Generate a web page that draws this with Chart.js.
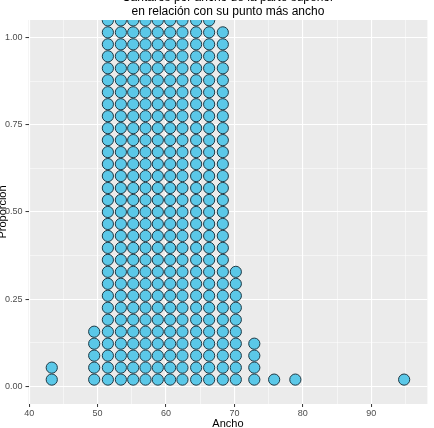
<!DOCTYPE html>
<html>
<head>
<meta charset="utf-8">
<script src="https://cdn.jsdelivr.net/npm/chart.js@4.4.1/dist/chart.umd.min.js"></script>
<style>
  html, body { margin: 0; padding: 0; background: #fff; overflow: hidden; }
  #wrap { position: absolute; left: -3px; top: -11px; width: 437px; height: 439px; }
</style>
</head>
<body>
<div id="wrap"><canvas id="chart" width="437" height="439"></canvas></div>
<script>
// dotplot bins: centre of each stack (Ancho) and how many dots it holds
const anchoBins = [43.3, 49.5, 51.5, 53.4, 55.2, 57.0, 58.8, 60.6, 62.4, 64.4, 66.3, 68.3, 70.2, 72.9, 75.8, 78.9, 94.8];
const dotCounts = [2, 5, 32, 32, 32, 32, 32, 32, 32, 32, 32, 30, 10, 4, 1, 1, 1];
const xTicks = [40, 45, 50, 55, 60, 65, 70, 75, 80, 85, 90, 95];
const yTicks = [0, 0.125, 0.25, 0.375, 0.5, 0.625, 0.75, 0.875, 1];
const dotStep = 0.0343;

const titleLines = ["Cántaros por ancho de la parte superior", "en relación con su punto más ancho"];

// stack the dots of each bin upward
let dots = [];
anchoBins.forEach((x, i) => {
    for (let k = 0; k < dotCounts[i]; k++) {
        dots.push({ x: x, y: dotStep * (k + 0.58) });
    }
});

const isMajorX = v => v % 10 === 0;
const isMajorY = v => Math.abs(v * 4 - Math.round(v * 4)) < 1e-9;

// grey ggplot panel
const panelBg = {
    id: "panelBg",
    beforeDraw(chart) {
        const a = chart.chartArea;
        const ctx = chart.ctx;
        ctx.save();
        ctx.fillStyle = "#EBEBEB";
        ctx.fillRect(a.left, a.top, a.right - a.left, a.bottom - a.top);
        ctx.restore();
    }
};

const font = "'Liberation Sans', Arial, sans-serif";

new Chart(document.getElementById("chart").getContext("2d"), {
    type: "scatter",
    data: {
        datasets: [{
            data: dots,
            pointRadius: 5.6,
            pointHoverRadius: 5.6,
            pointBorderWidth: 1,
            backgroundColor: "#5BC8E8",
            borderColor: "#1E3A46",
            clip: 0
        }]
    },
    options: {
        responsive: false,
        animation: false,
        devicePixelRatio: 1,
        layout: { padding: { left: 0, right: 4, top: 0, bottom: 0 } },
        plugins: {
            legend: { display: false },
            tooltip: { enabled: false },
            title: {
                display: true,
                text: titleLines,
                fullSize: false,
                color: "#000",
                font: { family: font, size: 12, weight: "normal", lineHeight: 14 / 12 },
                padding: { top: 2, bottom: 1 }
            }
        },
        scales: {
            x: {
                type: "linear",
                min: 39.9,
                max: 98.2,
                afterBuildTicks: s => { s.ticks = xTicks.map(v => ({ value: v })); },
                afterFit: s => { s.height = 24; },
                border: { display: false },
                grid: {
                    color: "#FFFFFF",
                    lineWidth: c => (c.tick && isMajorX(c.tick.value)) ? 1.1 : 0.5,
                    tickColor: c => (c.tick && isMajorX(c.tick.value)) ? "#333333" : "rgba(0,0,0,0)",
                    tickWidth: 1,
                    tickLength: 3
                },
                ticks: {
                    autoSkip: false,
                    maxRotation: 0,
                    padding: 1,
                    color: "#4D4D4D",
                    font: { family: font, size: 9 },
                    callback: v => isMajorX(v) ? String(v) : ""
                },
                title: {
                    display: true,
                    text: "Ancho",
                    color: "#000",
                    font: { family: font, size: 11, lineHeight: 1 },
                    padding: { top: 0, bottom: -1 }
                }
            },
            y: {
                type: "linear",
                min: -0.05,
                max: 1.05,
                afterBuildTicks: s => { s.ticks = yTicks.map(v => ({ value: v })); },
                afterFit: s => { s.width = 31.5; },
                border: { display: false },
                grid: {
                    color: "#FFFFFF",
                    lineWidth: c => (c.tick && isMajorY(c.tick.value)) ? 1.1 : 0.5,
                    tickColor: c => (c.tick && isMajorY(c.tick.value)) ? "#333333" : "rgba(0,0,0,0)",
                    tickWidth: 1,
                    tickLength: 3
                },
                ticks: {
                    autoSkip: false,
                    padding: 3,
                    color: "#4D4D4D",
                    font: { family: font, size: 9 },
                    callback: v => isMajorY(v) ? v.toFixed(2) : ""
                },
                title: {
                    display: true,
                    text: "Proporción",
                    color: "#000",
                    font: { family: font, size: 11, lineHeight: 1 },
                    padding: { top: 0, bottom: 0 }
                }
            }
        }
    },
    plugins: [panelBg]
});
</script>
</body>
</html>
